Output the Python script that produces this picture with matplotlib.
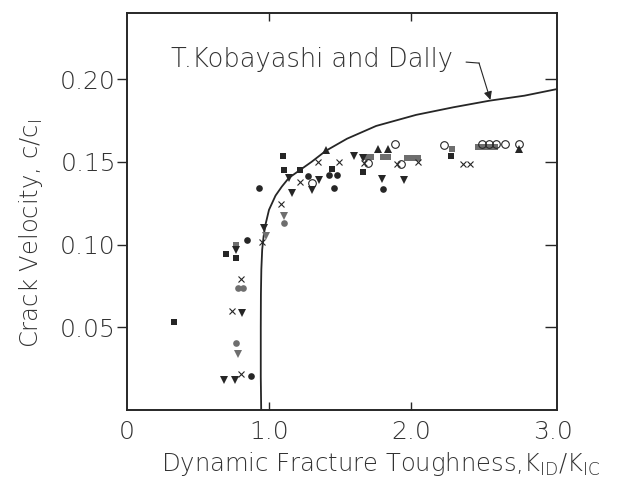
import matplotlib
matplotlib.use("Agg")
import matplotlib.pyplot as plt

plt.rcParams['font.family'] = ['DejaVu Sans']

# Kobayashi & Dally curve
curve_x = [0.945, 0.942, 0.942, 0.943, 0.946, 0.952, 0.962, 0.975, 1.0, 1.046, 1.09, 1.14,
           1.224, 1.30, 1.401, 1.55, 1.755, 2.037, 2.30, 2.556, 2.80, 3.03]
curve_y = [0.0, 0.02, 0.05, 0.07, 0.085, 0.097, 0.105, 0.112, 0.121, 0.1296, 0.135, 0.1403,
           0.1454, 0.150, 0.1567, 0.164, 0.1717, 0.1784, 0.183, 0.187, 0.190, 0.194]

# filled squares
sq_x = [0.33, 0.694, 0.764, 1.10, 1.106, 1.217, 1.442, 1.66, 2.28]
sq_y = [0.053, 0.094, 0.092, 0.1536, 0.145, 0.1448, 0.1454, 0.144, 0.1535]
# hatched (grey) squares
gsq_x = [0.765, 1.68, 1.72, 1.80, 1.84, 1.97, 2.01, 2.05, 2.29, 2.47, 2.51, 2.55, 2.59]
gsq_y = [0.100, 0.153, 0.153, 0.153, 0.153, 0.1525, 0.1525, 0.1525, 0.158, 0.159, 0.159, 0.159, 0.159]
# filled down triangles
dt_x = [0.77, 0.807, 0.686, 0.757, 0.962, 1.14, 1.163, 1.30, 1.35, 1.60, 1.66, 1.798, 1.95]
dt_y = [0.097, 0.0584, 0.0183, 0.0183, 0.110, 0.140, 0.1313, 0.133, 0.139, 0.1538, 0.1525, 0.1395, 0.139]
# grey down triangles
gdt_x = [0.78, 0.977, 1.104]
gdt_y = [0.034, 0.1054, 0.117]
# filled up triangles
ut_x = [1.40, 1.766, 1.836, 2.76]
ut_y = [0.157, 0.1577, 0.1577, 0.1576]
# filled circles
ci_x = [0.848, 0.87, 0.929, 1.277, 1.42, 1.48, 1.458, 1.80]
ci_y = [0.1025, 0.0205, 0.134, 0.1412, 0.142, 0.142, 0.134, 0.1335]
# grey circles
gci_x = [1.104, 0.767, 0.785, 0.815]
gci_y = [0.113, 0.0407, 0.074, 0.074]
# crosses
xx_x = [0.806, 0.739, 0.80, 0.949, 1.087, 1.218, 1.342, 1.49, 1.67, 1.90, 2.05, 2.367, 2.417]
xx_y = [0.0794, 0.0597, 0.0216, 0.1013, 0.1243, 0.138, 0.1498, 0.150, 0.1495, 0.149, 0.150, 0.149, 0.149]
# open circles
oc_x = [1.30, 1.70, 1.93, 1.89, 2.235, 2.50, 2.55, 2.60, 2.66, 2.76]
oc_y = [0.137, 0.1495, 0.149, 0.161, 0.1604, 0.1606, 0.1606, 0.1606, 0.1606, 0.1606]

x_ticks = [0, 1, 2, 3]
x_ticklabels = ['0', '1.0', '2.0', '3.0']
y_ticks = [0.05, 0.10, 0.15, 0.20]
y_ticklabels = ['0.05', '0.10', '0.15', '0.20']

ink = '#262626'
grey = '#6e6e6e'
txt = '#333333'

fig = plt.figure(figsize=(6.2, 4.91), dpi=100)
ax = fig.add_axes([0.205, 0.165, 0.6935, 0.8086])

ax.plot(curve_x, curve_y, color=ink, lw=1.3, zorder=3)

ms = 4.8
ax.plot(sq_x, sq_y, 's', color=ink, ms=ms, mew=0, zorder=4)
ax.plot(gsq_x, gsq_y, 's', color=grey, ms=ms, mew=0, zorder=4)
ax.plot(dt_x, dt_y, 'v', color=ink, ms=5.3, mew=0, zorder=4)
ax.plot(gdt_x, gdt_y, 'v', color=grey, ms=5.3, mew=0, zorder=4)
ax.plot(ut_x, ut_y, '^', color=ink, ms=5.3, mew=0, zorder=4)
ax.plot(ci_x, ci_y, 'o', color=ink, ms=ms, mew=0, zorder=4)
ax.plot(gci_x, gci_y, 'o', color=grey, ms=ms, mew=0, zorder=4)
ax.plot(xx_x, xx_y, 'x', color=ink, ms=4.5, mew=0.8, zorder=4)
ax.plot(oc_x, oc_y, 'o', mfc='none', mec=ink, ms=5.5, mew=0.8, zorder=4)

ax.set_xlim(0, 3.03)
ax.set_ylim(0, 0.24)

ax.set_xticks(x_ticks)
ax.set_xticklabels(x_ticklabels)
ax.set_yticks(y_ticks)
ax.set_yticklabels(y_ticklabels)

ax.tick_params(axis='x', direction='in', top=True, length=6, width=1, colors=ink,
               labelsize=18, pad=7, labelcolor=txt)
ax.tick_params(axis='y', which='major', direction='out', left=True, length=7, width=1,
               colors=ink, labelsize=18, pad=1, labelcolor=txt)
for i in (0, 3):
    t = ax.xaxis.get_major_ticks()[i]
    t.tick1line.set_visible(False)
    t.tick2line.set_visible(False)
for lbl in ax.get_xticklabels() + ax.get_yticklabels():
    lbl.set_fontweight('light')

# right-side inward ticks
axr = ax.twinx()
axr.set_ylim(ax.get_ylim())
axr.set_yticks(y_ticks)
axr.set_yticklabels([])
axr.tick_params(axis='y', direction='in', length=9, width=1, colors=ink)

for a in (ax, axr):
    for s in a.spines.values():
        s.set_color(ink)
        s.set_linewidth(1.2)

ax.set_ylabel(r'Crack Velocity, c/c$_\mathregular{I}$', fontsize=17.5, color=txt,
              fontweight='light')
ax.yaxis.set_label_coords(-0.19, 0.445)
ax.set_xlabel(r'Dynamic Fracture Toughness,K$_\mathregular{ID}$/K$_\mathregular{IC}$',
              fontsize=17.5, color=txt, fontweight='light')
ax.xaxis.set_label_coords(0.59, -0.102)

ax.text(0.31, 0.2075, 'T.Kobayashi and Dally', fontsize=18.5, color=txt,
        fontweight='light', ha='left', va='baseline')
ax.plot([2.39, 2.48], [0.2103, 0.2097], color=ink, lw=0.8)
ax.annotate('', xy=(2.56, 0.1875), xytext=(2.48, 0.2097),
            arrowprops=dict(arrowstyle='-|>', color=ink, lw=0.8, mutation_scale=12,
                            shrinkA=0, shrinkB=0))

fig.savefig('out.png', dpi=100)
